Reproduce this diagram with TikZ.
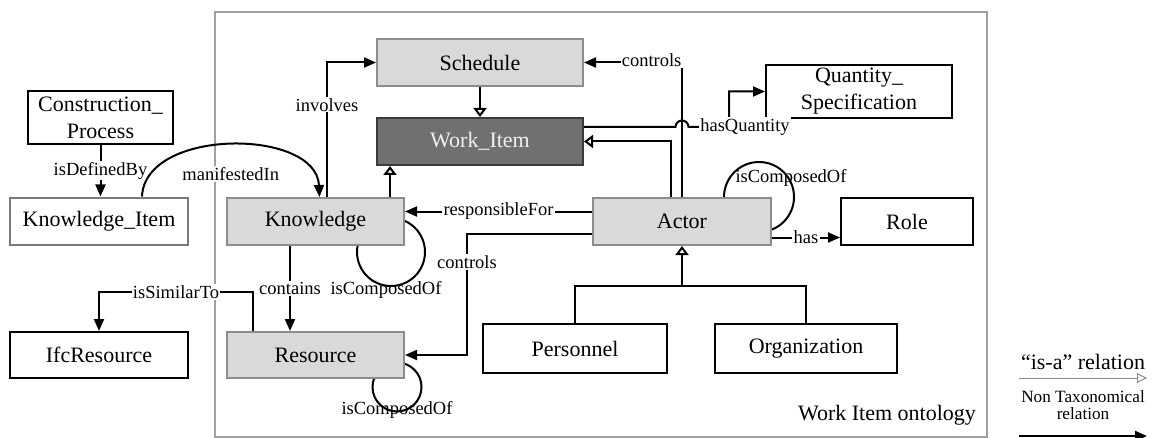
\documentclass[tikz,border=0pt]{standalone}
\usepackage{fontspec}
\setmainfont{Liberation Serif}
\usetikzlibrary{arrows.meta,calc,backgrounds}
\definecolor{lightfill}{HTML}{D9D9D9}
\definecolor{lightedge}{HTML}{8C8C8C}
\definecolor{darkfill}{HTML}{707070}
\definecolor{darkedge}{HTML}{3A3A3A}
\definecolor{framegray}{HTML}{A0A0A0}
\definecolor{softedge}{HTML}{7A7A7A}

\begin{document}
\begin{tikzpicture}[x=0.5pt,y=-0.5pt,
  box/.style={draw=black, line width=1pt, fill=white, rectangle, inner sep=0pt,
    font=\fontsize{11}{13.5}\selectfont, align=center},
  lightbox/.style={box, draw=lightedge, fill=lightfill},
  darkbox/.style={box, draw=darkedge, fill=darkfill, text=white!94!black},
  rel/.style={line width=1pt, -{Triangle[length=6pt,width=5pt]}},
  isa/.style={line width=1pt, -{Triangle[open,length=4.5pt,width=6.5pt,fill=white]}},
  plain/.style={line width=1pt},
  lbl/.style={font=\fontsize{9.25}{11}\selectfont, fill=white, inner sep=0.6pt},
  lblclear/.style={font=\fontsize{9.25}{11}\selectfont, inner sep=0.6pt},
]
\useasboundingbox (0,0) rectangle (1154,438);

% ontology frame
\begin{scope}[on background layer]
  \draw[framegray, line width=0.75pt] (215,12) rectangle (987,437);
\end{scope}
\node[font=\fontsize{11}{13}\selectfont] (frametitle) at (887,415) {Work Item ontology};

% concepts
\node[lightbox, minimum width=103pt, minimum height=23.5pt] (sch) at (480,62.5) {Schedule};
\node[darkbox,  minimum width=103pt, minimum height=23.5pt] (wi) at (480,141.5) {Work\_Item};
\node[box, minimum width=72.5pt, minimum height=26.5pt] (cp) at (100.5,117.5) {Construction\_\\Process};
\node[box, draw=softedge, minimum width=89pt, minimum height=23.5pt] (ki) at (99,221) {Knowledge\_Item};
\node[lightbox, minimum width=88.5pt, minimum height=23.5pt] (kn) at (315.5,221.5) {Knowledge};
\node[lightbox, minimum width=88.5pt, minimum height=23pt] (res) at (315.5,355) {Resource};
\node[box, minimum width=89pt, minimum height=23pt] (ifc) at (99,355) {IfcResource};
\node[lightbox, minimum width=89pt, minimum height=23.5pt] (act) at (682,221.5) {Actor};
\node[box, minimum width=92pt, minimum height=24.5pt] (pers) at (575,348.5) {Personnel};
\node[box, minimum width=91pt, minimum height=24.5pt] (org) at (806,348.5) {Organization};
\node[box, minimum width=66pt, minimum height=23.5pt] (role) at (907,221.5) {Role};
\node[box, minimum width=93pt, minimum height=26.5pt] (qs) at (859,91.5) {Quantity\_\\Specification};

% self relations (isComposedOf), partly hidden behind the boxes
\begin{scope}[on background layer]
  \draw[plain] ([shift={(-14,6)}]kn.south east) circle[radius=17pt];
  \draw[plain] ([shift={(-8,8)}]res.south east) circle[radius=12.25pt];
  \draw[plain] ([shift={(-13,0)}]act.north east) circle[radius=17.5pt];
\end{scope}
\node[lblclear] (knloop) at (386,290) {isComposedOf};
\node[lblclear] (resloop) at (397,410) {isComposedOf};
\node[lblclear] (actloop) at (791,178) {isComposedOf};

% taxonomic relations
\draw[isa] (sch.south) -- (wi.north);
\draw[isa] ([xshift=37.25pt]kn.north) -- ([xshift=37.25pt]kn.north |- wi.south);
\draw[isa] ([xshift=-5.5pt]act.north) |- (wi.east);
\coordinate (bar) at ([yshift=-20pt]act.south);
\draw[plain] (pers.north) |- (bar) -| (org.north);
\draw[isa] (bar) -- (act.south);

% non taxonomical relations
\draw[rel] (cp.south) -- (cp.south |- ki.north) node[lbl, midway] {isDefinedBy};
\draw[rel] ([xshift=21.5pt]ki.north) .. controls +(3,-69) and +(-3,-69) .. ([xshift=2pt]kn.north)
  node[lbl, pos=0.5, yshift=-14.5pt] {manifestedIn};
\draw[rel] ([xshift=5.75pt]kn.north) |- (sch.west) node[lbl, pos=0.343] {involves};
\draw[rel] (act.north) |- (sch.east) node[lbl, pos=0.655, yshift=1pt] {controls};

\coordinate (hq0) at ([yshift=7.25pt]wi.east);
\coordinate (hqc) at ([xshift=-18pt]qs.west |- hq0);
\draw[rel] (hq0) -- ([xshift=-3.25pt]act.north |- hq0)
  arc[start angle=180, end angle=0, radius=3.25pt] -- (hqc)
  node[lbl, pos=1, xshift=8pt] {hasQuantity} |- (qs.west);

\draw[rel] ([yshift=5pt]act.west) -- ([yshift=5pt]act.west -| kn.east)
  node[lbl, midway] {responsibleFor};
\draw[rel] ([yshift=-6pt]act.west) -| ([xshift=31pt]res.east)
  node[lbl, pos=0.617] {controls} -- (res.east);
\draw[rel] ([xshift=-12.75pt]kn.south) -- ([xshift=-12.75pt]kn.south |- res.north)
  node[lbl, midway] {contains};
\draw[rel] ([xshift=-31.25pt]res.north) -- ++(0,-39) -| (ifc.north)
  node[lbl, pos=0.25] {isSimilarTo};
\draw[rel] ([yshift=-8pt]act.east) -- ([yshift=-8pt]act.east -| role.west)
  node[lbl, midway] {has};

% legend
\node[font=\fontsize{11}{13}\selectfont] (isakey) at (1083,362) {“is-a” relation};
\coordinate (isa0) at (1019,378);
\coordinate (isa1) at (1147,378);
\draw[black!45, line width=0.5pt, -{Triangle[open,length=5pt,width=5pt,fill=white]}] (isa0) -- (isa1);
\node[font=\fontsize{8.6}{8.5}\selectfont, align=center] (relkey) at (1083,405) {Non Taxonomical\\relation};
\coordinate (rel0) at (1019,436);
\coordinate (rel1) at (1147,436);
\draw[rel] (rel0) -- (rel1);
\end{tikzpicture}
\end{document}
